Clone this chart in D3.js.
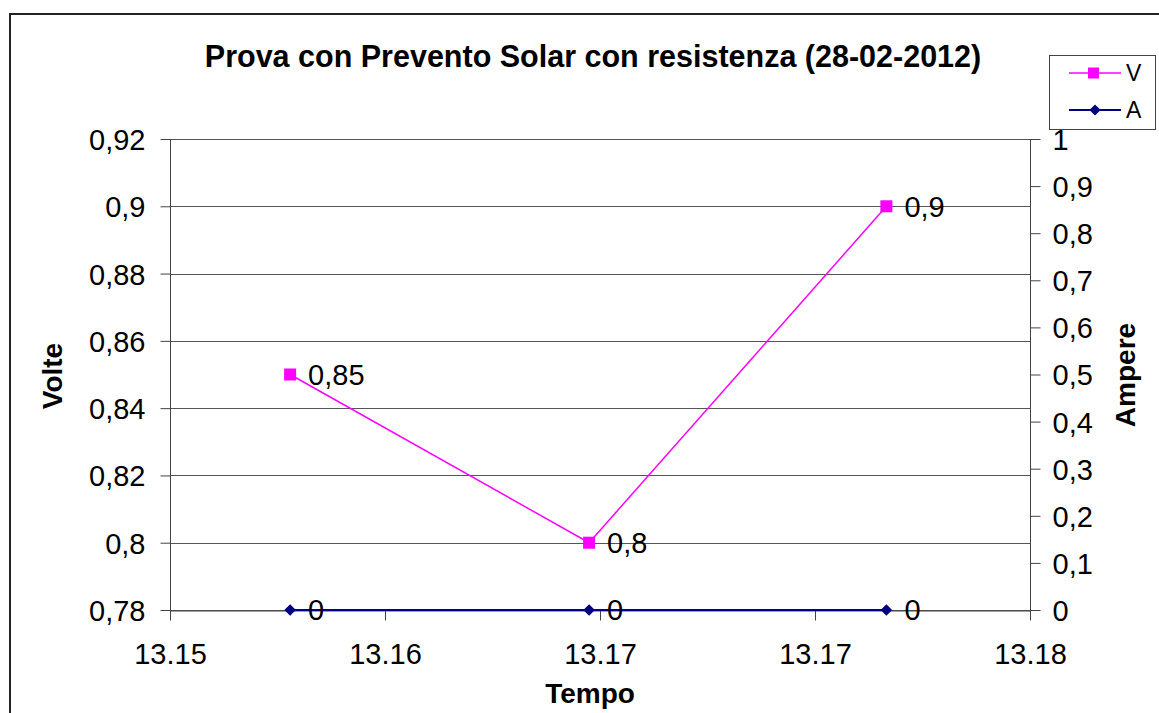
<!DOCTYPE html>
<html><head><meta charset="utf-8">
<script src="https://cdn.jsdelivr.net/npm/d3@7"></script>
<style>body{margin:0;background:#fff}svg{display:block}text{font-family:"Liberation Sans",Arial,sans-serif;fill:#000}</style>
</head><body><svg id="c" width="1159" height="713"></svg>
<script>
const title = "Prova con Prevento Solar con resistenza (28-02-2012)";
const times = [13.15419, 13.16462, 13.17499];
const volts = [0.85, 0.8, 0.9];
const volts_labels = ["0,85", "0,8", "0,9"];
const amps = [0, 0, 0];
const amps_labels = ["0", "0", "0"];
const xTicks = [13.15, 13.1575, 13.165, 13.1725, 13.18];
const xTickLabels = ["13.15", "13.16", "13.17", "13.17", "13.18"];
const yLeftTicks = [0.78, 0.8, 0.82, 0.84, 0.86, 0.88, 0.9, 0.92];
const yLeftLabels = ["0,78", "0,8", "0,82", "0,84", "0,86", "0,88", "0,9", "0,92"];
const yRightTicks = [0, 0.1, 0.2, 0.3, 0.4, 0.5, 0.6, 0.7, 0.8, 0.9, 1];
const yRightLabels = ["0", "0,1", "0,2", "0,3", "0,4", "0,5", "0,6", "0,7", "0,8", "0,9", "1"];
const seriesNames = ["V", "A"];
const colors = {V: "#FF00FF", A: "#000080"};

const svg = d3.select("#c");
const L = 170, R = 1030, T = 139, B = 610;
const x = d3.scaleLinear().domain([13.15, 13.18]).range([L, R]);
const yL = d3.scaleLinear().domain([0.78, 0.92]).range([B, T]);
const yR = d3.scaleLinear().domain([0, 1]).range([B, T]);

// outer frame
svg.append("path").attr("d", "M10,713 L10,14 L1159,14").attr("fill", "none").attr("stroke", "#222").attr("stroke-width", 2);

// gridlines
svg.append("g").selectAll("line").data(yLeftTicks).join("line")
  .attr("x1", L).attr("x2", R)
  .attr("y1", d => Math.round(yL(d)) + 0.5).attr("y2", d => Math.round(yL(d)) + 0.5)
  .attr("stroke", "#555").attr("stroke-width", 1);

const fs = 29;
const gL = svg.append("g").attr("transform", `translate(${L + 0.5},0)`)
  .call(d3.axisLeft(yL).tickValues(yLeftTicks).tickFormat((d, i) => yLeftLabels[i]).tickSize(10).tickSizeOuter(0).tickPadding(15));
const gR = svg.append("g").attr("transform", `translate(${R + 0.5},0)`)
  .call(d3.axisRight(yR).tickValues(yRightTicks).tickFormat((d, i) => yRightLabels[i]).tickSize(10).tickSizeOuter(0).tickPadding(12));
const gX = svg.append("g").attr("transform", `translate(0,${B + 0.5})`)
  .call(d3.axisBottom(x).tickValues(xTicks).tickFormat((d, i) => xTickLabels[i]).tickSize(10).tickSizeOuter(0).tickPadding(22));
[gL, gR, gX].forEach(g => {
  g.select(".domain").attr("stroke", "#444");
  g.selectAll(".tick line").attr("stroke", "#444");
  g.selectAll(".tick text").attr("font-size", fs).attr("font-family", "Liberation Sans, Arial, sans-serif").attr("fill", "#000");
});
gR.select(".domain").attr("d", `M0,${T}V${B + 10}`);
gL.select(".domain").attr("d", `M0,${T}V${B + 10}`);
gL.selectAll(".tick text").attr("dy", "0.36em");
gR.selectAll(".tick text").attr("dy", "0.36em");
gX.selectAll(".tick text").attr("dy", "0.74em");

// series
const lineV = d3.line().x((d, i) => x(times[i])).y(d => yL(d));
const lineA = d3.line().x((d, i) => x(times[i])).y(d => yR(d));
svg.append("path").datum(amps).attr("d", lineA).attr("fill", "none").attr("stroke", colors.A).attr("stroke-width", 2);
svg.append("path").datum(volts).attr("d", lineV).attr("fill", "none").attr("stroke", colors.V).attr("stroke-width", 1.5);

svg.append("g").selectAll("path").data(amps).join("path")
  .attr("d", d3.symbol().type(d3.symbolDiamond2).size(85))
  .attr("transform", (d, i) => `translate(${x(times[i])},${yR(d)})`)
  .attr("fill", colors.A);
svg.append("g").selectAll("rect").data(volts).join("rect")
  .attr("x", (d, i) => x(times[i]) - 6).attr("y", d => yL(d) - 6)
  .attr("width", 12).attr("height", 12).attr("fill", colors.V);

// data labels
svg.append("g").selectAll("text").data(volts).join("text")
  .attr("x", (d, i) => x(times[i]) + 18).attr("y", d => yL(d)).attr("dy", "0.36em")
  .attr("font-size", fs).text((d, i) => volts_labels[i]);
svg.append("g").selectAll("text").data(amps).join("text")
  .attr("x", (d, i) => x(times[i]) + 18).attr("y", d => yR(d)).attr("dy", "0.36em")
  .attr("font-size", fs).text((d, i) => amps_labels[i]);

// titles
svg.append("text").attr("x", 593).attr("y", 67).attr("text-anchor", "middle")
  .attr("font-size", 30.5).attr("font-weight", "bold").text(title);
svg.append("text").attr("x", 590).attr("y", 703).attr("text-anchor", "middle")
  .attr("font-size", 28).attr("font-weight", "bold").text("Tempo");
svg.append("text").attr("transform", "translate(62,376) rotate(-90)").attr("text-anchor", "middle")
  .attr("font-size", 28).attr("font-weight", "bold").text("Volte");
svg.append("text").attr("transform", "translate(1135,375) rotate(-90)").attr("text-anchor", "middle")
  .attr("font-size", 28).attr("font-weight", "bold").text("Ampere");

// legend
const lg = svg.append("g");
lg.append("rect").attr("x", 1049.5).attr("y", 55.5).attr("width", 106).attr("height", 74)
  .attr("fill", "#fff").attr("stroke", "#444").attr("stroke-width", 1);
const legY = [73, 110];
seriesNames.forEach((s, i) => {
  lg.append("line").attr("x1", 1069).attr("x2", 1121).attr("y1", legY[i]).attr("y2", legY[i])
    .attr("stroke", colors[s]).attr("stroke-width", s === "A" ? 2 : 1.5);
  if (s === "V") lg.append("rect").attr("x", 1088).attr("y", legY[i] - 5.5).attr("width", 11).attr("height", 11).attr("fill", colors[s]);
  else lg.append("path").attr("d", d3.symbol().type(d3.symbolDiamond2).size(80)).attr("transform", `translate(1095,${legY[i]})`).attr("fill", colors[s]);
  lg.append("text").attr("x", 1126).attr("y", legY[i]).attr("dy", "0.36em").attr("font-size", 23).text(s);
});
</script></body></html>
